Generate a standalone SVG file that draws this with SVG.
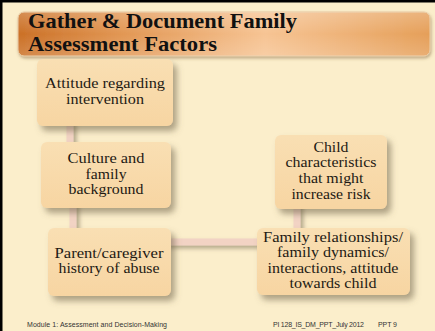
<svg xmlns="http://www.w3.org/2000/svg" width="435" height="331" viewBox="0 0 435 331">
<defs>
<linearGradient id="tg" x1="0" y1="0" x2="1" y2="0">
<stop offset="0" stop-color="#C8691C"/>
<stop offset="0.25" stop-color="#E0914A"/>
<stop offset="0.6" stop-color="#F6C18E"/>
<stop offset="1" stop-color="#E49A50"/>
</linearGradient>
<linearGradient id="tgl" x1="0" y1="0" x2="0" y2="1">
<stop offset="0" stop-color="#FFFFFF" stop-opacity="0.25"/>
<stop offset="0.5" stop-color="#FFFFFF" stop-opacity="0.05"/>
<stop offset="1" stop-color="#FFFFFF" stop-opacity="0.2"/>
</linearGradient>
<linearGradient id="bg" x1="0" y1="0" x2="0" y2="1">
<stop offset="0" stop-color="#F9DFB3"/>
<stop offset="1" stop-color="#F7D5A2"/>
</linearGradient>
<filter id="sh" x="-20%" y="-20%" width="150%" height="150%">
<feDropShadow dx="4" dy="5" stdDeviation="3" flood-color="#6E6248" flood-opacity="0.55"/>
</filter>
<filter id="tsh" x="-5%" y="-20%" width="110%" height="150%">
<feDropShadow dx="1" dy="2" stdDeviation="1.5" flood-color="#7A5A30" flood-opacity="0.45"/>
</filter>
<filter id="csh" filterUnits="userSpaceOnUse" x="0" y="0" width="435" height="331">
<feDropShadow dx="3" dy="3" stdDeviation="2" flood-color="#6E6248" flood-opacity="0.5"/>
</filter>
</defs>
<style>
.box{fill:url(#bg);filter:url(#sh);}
.t{font-family:"Liberation Serif","Times New Roman",serif;font-size:14.5px;fill:#1E1A14;text-anchor:middle;}
.ttl{font-family:"Liberation Serif","Times New Roman",serif;font-size:21px;font-weight:bold;fill:#111;}
.ft{font-family:"Liberation Sans",Arial,sans-serif;font-size:7px;fill:#333;}
.con{fill:#F2D3C4;}
</style>
<rect x="0" y="0" width="435" height="331" fill="#FBEECB"/>
<rect x="0" y="0" width="435" height="2.5" fill="#000"/>
<rect x="0" y="0" width="2.5" height="331" fill="#000"/>

<g id="title">
<rect x="18" y="12" width="412" height="44" rx="6" fill="url(#tg)" stroke="#E8C9A0" stroke-width="1" filter="url(#tsh)"/>
<rect x="18" y="12" width="412" height="44" rx="6" fill="url(#tgl)"/>
<text class="ttl" x="28" y="28" textLength="269" lengthAdjust="spacingAndGlyphs">Gather &amp; Document Family</text>
<text class="ttl" x="28" y="51" textLength="189" lengthAdjust="spacingAndGlyphs">Assessment Factors</text>
</g>

<g id="connectors" filter="url(#csh)">
<rect class="con" x="66.5" y="120" width="7" height="30"/>
<rect class="con" x="69.5" y="200" width="7" height="35"/>
<rect class="con" x="165" y="238.5" width="100" height="7"/>
<rect class="con" x="293.5" y="200" width="7" height="35"/>
</g>

<g id="n1">
<rect class="box" x="37" y="59" width="136" height="67" rx="6"/>
<text class="t" x="105" y="88" textLength="120" lengthAdjust="spacingAndGlyphs">Attitude regarding</text>
<text class="t" x="105" y="104" textLength="78" lengthAdjust="spacingAndGlyphs">intervention</text>
</g>
<g id="n2">
<rect class="box" x="41" y="142" width="130" height="66" rx="6"/>
<text class="t" x="106" y="163" textLength="77" lengthAdjust="spacingAndGlyphs">Culture and</text>
<text class="t" x="106" y="179" textLength="41" lengthAdjust="spacingAndGlyphs">family</text>
<text class="t" x="106" y="194" textLength="75" lengthAdjust="spacingAndGlyphs">background</text>
</g>
<g id="n3">
<rect class="box" x="48" y="228" width="123" height="68" rx="6"/>
<text class="t" x="109" y="258" textLength="109" lengthAdjust="spacingAndGlyphs">Parent/caregiver</text>
<text class="t" x="109" y="273" textLength="101" lengthAdjust="spacingAndGlyphs">history of abuse</text>
</g>
<g id="n4">
<rect class="box" x="275" y="135" width="112" height="74" rx="6"/>
<text class="t" x="331" y="152" textLength="35" lengthAdjust="spacingAndGlyphs">Child</text>
<text class="t" x="331" y="167" textLength="91" lengthAdjust="spacingAndGlyphs">characteristics</text>
<text class="t" x="331" y="183" textLength="65" lengthAdjust="spacingAndGlyphs">that might</text>
<text class="t" x="331" y="199" textLength="79" lengthAdjust="spacingAndGlyphs">increase risk</text>
</g>
<g id="n5">
<rect class="box" x="257" y="228" width="153" height="67" rx="6"/>
<text class="t" x="333" y="242" textLength="140" lengthAdjust="spacingAndGlyphs">Family relationships/</text>
<text class="t" x="333" y="257" textLength="112" lengthAdjust="spacingAndGlyphs">family dynamics/</text>
<text class="t" x="333" y="273" textLength="131" lengthAdjust="spacingAndGlyphs">interactions, attitude</text>
<text class="t" x="333" y="288" textLength="87" lengthAdjust="spacingAndGlyphs">towards child</text>
</g>

<g id="footer">
<text class="ft" x="27" y="327" textLength="140">Module 1: Assessment and Decision-Making</text>
<text class="ft" x="273" y="327" textLength="91">PI 128_IS_DM_PPT_July 2012</text>
<text class="ft" x="378" y="327" textLength="19">PPT 9</text>
</g>
</svg>
